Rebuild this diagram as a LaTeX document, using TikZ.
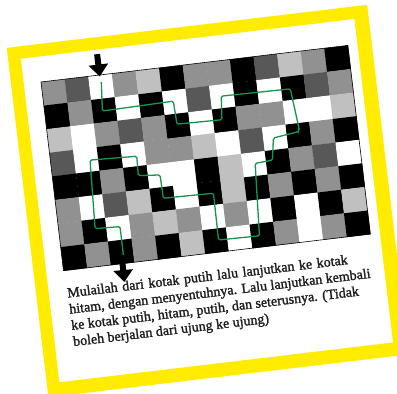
\documentclass[tikz,border=0pt]{standalone}
\usepackage{fontspec}
\setmainfont{Liberation Serif}
\usetikzlibrary{arrows.meta}
\definecolor{frameyellow}{RGB}{255,236,0}
\definecolor{cK}{RGB}{0,0,0}
\definecolor{cD}{RGB}{88,88,88}
\definecolor{cG}{RGB}{145,145,145}
\definecolor{cL}{RGB}{192,192,192}
\definecolor{cW}{RGB}{255,255,255}
\definecolor{pathgreen}{RGB}{20,150,80}
\definecolor{inkc}{RGB}{30,30,30}
\begin{document}
\begin{tikzpicture}[x=1pt,y=1pt,
  bigarrow/.style={line width=6pt, -{Triangle[width=19pt,length=12pt]}},
  trail/.style={pathgreen, line width=1.3pt, rounded corners=1.5pt},
  caption/.style={transform shape, anchor=north west, inner sep=0pt, align=left, text=inkc,
    font=\fontsize{14}{16.3}\selectfont\addfontfeature{FakeBold=1.6}}]
\useasboundingbox (0,0) rectangle (397,394);
\clip (0,0) rectangle (397,394);
\begin{scope}[shift={(41pt,312pt)}, rotate=6.8, y=-1pt]
  % yellow frame
  \fill[frameyellow, even odd rule] (-30,-38) rectangle (333,314) (-17.3,-25.5) rectangle (318.7,300.3);
  % grid
  \begin{scope}[x=23.77pt, y=-23.75pt]
    \foreach \r/\row in {
      0/{G,D,W,G,L,K,G,G,K,D,L,G,K},
      1/{K,G,K,W,K,W,D,W,K,W,K,D,G},
      2/{L,W,G,D,G,K,W,K,G,G,W,W,L},
      3/{D,W,K,W,G,G,L,W,D,W,K,G,K},
      4/{K,K,G,K,W,W,K,L,W,K,G,D,W},
      5/{G,W,D,L,K,W,K,L,K,G,K,G,K},
      6/{G,K,W,G,L,G,W,G,W,K,W,K,L},
      7/{K,G,K,G,K,L,K,W,K,G,W,G,K}}{
      \foreach \c [count=\i from 0] in \row {
        \fill[c\c] (\i,\r) rectangle ++(1.01,1.01);
      }
    }
    \draw[line width=0.6pt] (0,0) rectangle (13,8);
    \draw[trail] (2.52,0.3) -- (2.42,1.52) -- (5.43,1.46) -- (5.47,2.44) -- (7.37,2.48) -- (7.46,1.49)
      -- (10.38,1.53) -- (10.55,3.25) -- (10.5,3.36) -- (9.43,3.5) -- (9.28,4.42) -- (8.54,4.47)
      -- (8.36,7.52) -- (6.63,7.49) -- (6.65,5.51) -- (4.53,5.47) -- (4.51,4.48) -- (3.6,4.4)
      -- (3.63,3.58) -- (1.66,3.51) -- (1.53,6.4) -- (2.58,6.44) -- (2.58,7.64);
  \end{scope}
  % arrows
  \coordinate (inStart) at (59,-21);
  \coordinate (inEnd) at (59,1.5);
  \coordinate (outStart) at (59.5,189);
  \coordinate (outEnd) at (59,208.5);
  \draw[bigarrow] (inStart) -- (inEnd);
  \draw[bigarrow] (outStart) -- (outEnd);
  % caption
  \node[caption] (caption) at (1,207.3) {{\spaceskip=4.65pt Mulailah dari kotak putih lalu lanjutkan ke kotak}\\
    hitam, dengan menyentuhnya. Lalu lanjutkan kembali\\
    ke kotak putih, hitam, putih, dan seterusnya. (Tidak\\
    boleh berjalan dari ujung ke ujung)};
\end{scope}
\end{tikzpicture}
\end{document}
